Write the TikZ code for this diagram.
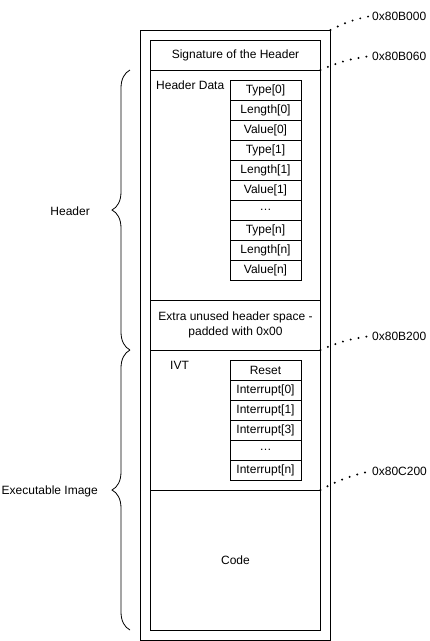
\documentclass[tikz,border=0pt]{standalone}
\usepackage{fontspec}
\setmainfont{Liberation Sans}
\usetikzlibrary{positioning,decorations.pathreplacing}

\begin{document}
\begin{tikzpicture}[
  x=1pt, y=-1pt,
  every node/.style={font=\fontsize{12}{14.5}\selectfont},
  region/.style={draw, line width=1pt, minimum width=170pt, inner sep=0pt, outer sep=0pt, align=center},
  cell/.style={draw, line width=1pt, minimum width=71pt, minimum height=20pt, inner sep=0pt, outer sep=0pt},
  addr/.style={line width=2.2pt, line cap=round, dash pattern=on 0pt off 8pt},
  curly/.style={decorate, decoration={brace, amplitude=18pt}, line width=0.8pt}
]
\useasboundingbox (0,0) rectangle (430,641);

% memory image and its parts
\node[draw, line width=1pt, minimum width=190pt, minimum height=610pt, anchor=north west, inner sep=0pt, outer sep=0pt] (image) at (140.5,30) {};
\node[region, minimum height=30pt, anchor=north west] (sig) at (150.5,40) {Signature of the Header};
\node[region, minimum height=230pt, below=0pt of sig] (hdr) {};
\node[region, minimum height=50pt, below=0pt of hdr] (extra) {Extra unused header space -\\padded with 0x00};
\node[region, minimum height=140pt, below=0pt of extra] (ivt) {};
\node[region, minimum height=140pt, below=0pt of ivt] (code) {Code};

\node[anchor=west, inner sep=1pt] (hdrlbl) at (155,85) {Header Data};
\node[anchor=west, inner sep=1pt] (ivtlbl) at (169,365) {IVT};

% TLV list
\foreach \i/\t in {0/Type[0],1/Length[0],2/Value[0],3/Type[1],4/Length[1],5/Value[1],6/{\ldots},7/Type[n],8/Length[n],9/Value[n]}{
  \node[cell] (tlv\i) at (265.5,90+20*\i) {\t};
}

% vector table
\foreach \i/\t in {0/Reset,1/Interrupt[0],2/Interrupt[1],3/Interrupt[3],4/{\ldots},5/Interrupt[n]}{
  \node[cell] (vec\i) at (265.5,370+20*\i) {\t};
}

% braces
\coordinate (hdrtop) at (130,70);
\coordinate (hdrbot) at (130,350);
\coordinate (exebot) at (130,630);
\draw[curly] (hdrbot) -- (hdrtop);
\draw[curly] (exebot) -- (hdrbot);
\node[anchor=east, inner sep=1pt] (hdrname) at (91,211) {Header};
\node[anchor=east, inner sep=1pt] (exename) at (99,491) {Executable Image};

% addresses
\node[anchor=west, inner sep=1pt] (a0) at (371,16) {0x80B000};
\node[anchor=west, inner sep=1pt] (a1) at (371,56) {0x80B060};
\node[anchor=west, inner sep=1pt] (a2) at (371,336) {0x80B200};
\node[anchor=west, inner sep=1pt] (a3) at (371,471) {0x80C200};
\draw[addr] (image.north east) to[bend left=8] (a0.west);
\draw[addr] (hdr.north east) to[bend left=8] (a1.west);
\draw[addr] (ivt.north east) to[bend left=8] (a2.west);
\draw[addr] (code.north east) to[bend left=8] (a3.west);
\end{tikzpicture}
\end{document}
